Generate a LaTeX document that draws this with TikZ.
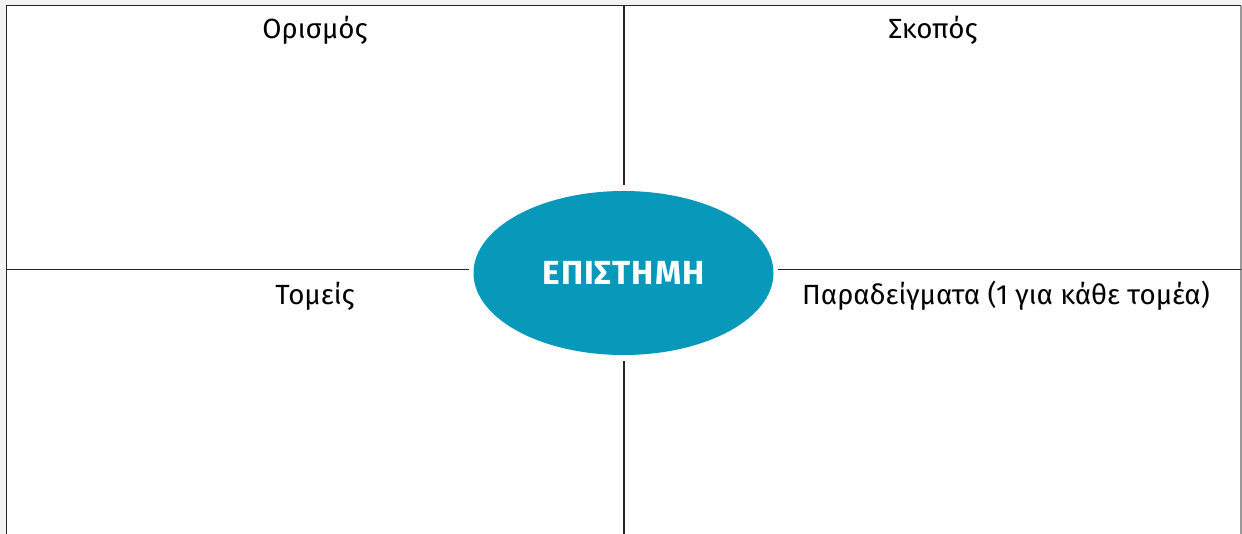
\documentclass[tikz,border=0pt]{standalone}
\usepackage{fontspec}
\setmainfont{Fira Sans}
\usepackage{tikz}
\usetikzlibrary{positioning,shapes}
\definecolor{teal}{RGB}{8,152,185}
\definecolor{paper}{RGB}{242,243,242}

\begin{document}
\begin{tikzpicture}[x=0.02cm,y=-0.02cm]
	\tikzset{heading/.style={font=\fontsize{15.8}{18}\selectfont,anchor=base}}
	\tikzset{rule/.style={line width=0.6pt,black!85}}
	\useasboundingbox (0,0) rectangle (1242,534);
	\fill[paper] (0,0) rectangle (1242,534);
	\fill[white] (7,6) rectangle (1241,534);

	%% frame
	\draw[line width=1.1pt,black!85] (6.5,534) -- (6.5,5.5) -- (1241,5.5);
	\draw[line width=0.6pt,black!40] (1241,5.5) -- (1241,534);

	\coordinate (top) at (624,5.5);
	\coordinate (bottom) at (624,534);
	\coordinate (left) at (6.5,269.5);
	\coordinate (right) at (1241,269.5);

	\node[ellipse,fill=teal,minimum width=300*0.02cm,minimum height=164*0.02cm,inner sep=0pt,
		text=white,font=\fontsize{19}{22}\selectfont\bfseries\addfontfeature{LetterSpace=3}] (core) at (623.5,273) {ΕΠΙΣΤΗΜΗ};

	%% cross
	\draw[rule] (top) -- ([yshift=3.2pt]core.north -| top);
	\draw[rule] (bottom) -- ([yshift=-3.2pt]core.south -| bottom);
	\draw[rule] (left) -- ([xshift=-2.4pt]core.west |- left);
	\draw[rule] (right) -- ([xshift=2.4pt]core.east |- right);

	%% headings
	\node[heading] (def) at (315,38.8) {Ορισμός};
	\node[heading] (aim) at (933,38.8) {Σκοπός};
	\node[heading] (fields) at (315,304.7) {Τομείς};
	\node[heading] (examples) at (1006,304.7) {Παραδείγματα (1 για κάθε τομέα)};
\end{tikzpicture}
\end{document}
